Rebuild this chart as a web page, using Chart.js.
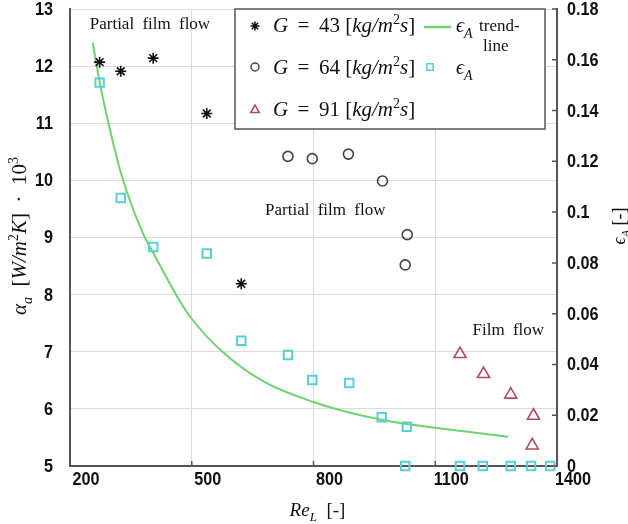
<!DOCTYPE html>
<html>
<head>
<meta charset="utf-8">
<script src="https://cdn.jsdelivr.net/npm/chart.js@4.4.0/dist/chart.umd.min.js"></script>
<style>
    html, body { margin: 0; padding: 0; background: #fff; }
</style>
</head>
<body>
<canvas id="chart" width="628" height="524"></canvas>
<script>
/*********************************/
// Measured points, Re_L on x
const g43_re = [273, 325, 405, 537, 622];
const g43_alpha = [12.07, 11.91, 12.14, 11.17, 8.19];

const g64_re = [737, 797, 886, 970, 1031, 1026];
const g64_alpha = [10.42, 10.38, 10.46, 9.99, 9.05, 8.52];

const g91_re = [1161, 1219, 1286, 1342, 1339];
const g91_alpha = [6.96, 6.61, 6.25, 5.88, 5.36];

// epsilon_A on the right axis
const eps_re = [273, 325, 405, 537, 622, 737, 797, 888, 968, 1030, 1026, 1161, 1217, 1286, 1336, 1383];
const eps_val = [0.151, 0.1056, 0.0863, 0.0837, 0.0493, 0.0437, 0.0339, 0.0327, 0.0192, 0.0155, 0, 0, 0, 0, 0, 0];

// trend line for epsilon_A
const trend_re = [256, 273, 297, 328, 380, 405, 463, 500, 574, 680, 800, 890, 1030, 1100, 1279];
const trend_eps = [0.1667, 0.1513, 0.1335, 0.114, 0.0915, 0.084, 0.067, 0.058, 0.0452, 0.033, 0.0252, 0.021, 0.0165, 0.0151, 0.0115];

// region labels, placed in data units (Re, alpha)
const regions = [
    { text: "Partial film flow", re: 397, alpha: 12.72 },
    { text: "Partial film flow", re: 829, alpha: 9.47 },
    { text: "Film flow", re: 1280, alpha: 7.37 }
];

const STAR_COLOR = '#111';
const CIRCLE_COLOR = '#444';
const TRI_COLOR = '#a8505a';
const SQUARE_COLOR = '#55d0d8';
const TREND_COLOR = '#6fd26f';
const AXIS_COLOR = '#555';
const GRID_COLOR = '#dadada';

const SERIF = "'Liberation Serif', 'DejaVu Serif', serif";
const TICK_FONT = "bold 18px 'Liberation Sans', Arial, sans-serif";

function pts(xs, ys) {
    return xs.map((x, i) => ({ x: x, y: ys[i] }));
}

// Text with italics, sub- and superscripts: parts = [{t, i, sub, sup}]
function part_font(p, size) {
    const s = (p.sub || p.sup) ? Math.round(size * 0.68) : size;
    return (p.i ? 'italic ' : '') + s + 'px ' + SERIF;
}

function rich_width(ctx, parts, size) {
    let w = 0;
    for (const p of parts) {
        ctx.font = part_font(p, size);
        w += ctx.measureText(p.t).width;
    }
    return w;
}

function draw_rich(ctx, parts, x, y, size, align) {
    let cx = x;
    if (align === 'center') cx = x - rich_width(ctx, parts, size) / 2;
    ctx.textBaseline = 'alphabetic';
    ctx.textAlign = 'left';
    for (const p of parts) {
        ctx.font = part_font(p, size);
        let dy = 0;
        if (p.sub) dy = size * 0.28;
        if (p.sup) dy = -size * 0.4;
        ctx.fillText(p.t, cx, y + dy);
        cx += ctx.measureText(p.t).width;
    }
}

function g_label(val) {
    return [
        { t: 'G', i: true }, { t: ' \u2009=\u2009 ' + val + ' [' },
        { t: 'kg/m', i: true }, { t: '2', sup: true }, { t: 's', i: true }, { t: ']' }
    ];
}

const eps_label = [{ t: '\u03F5', i: true }, { t: 'A', i: true, sub: true }];

function fmt_tick(v) {
    return String(+v.toFixed(2));
}

// narrow bold tick text
function tick_text(ctx, text, x, y, align) {
    ctx.save();
    ctx.translate(x, y);
    ctx.scale(0.9, 1);
    ctx.textAlign = align;
    ctx.fillText(text, 0, 0);
    ctx.restore();
}

// Tick labels, inner ticks, titles, region labels and legend box
const decorations = {
    id: 'decorations',
    afterDraw(chart) {
        const ctx = chart.ctx;
        const area = chart.chartArea;
        const xs = chart.scales.x;
        const ys = chart.scales.y;
        const y2 = chart.scales.y2;
        ctx.save();

        // inward tick marks on bottom and right axes
        ctx.strokeStyle = AXIS_COLOR;
        ctx.lineWidth = 1.5;
        ctx.beginPath();
        xs.ticks.forEach(t => {
            const px = xs.getPixelForValue(t.value);
            ctx.moveTo(px, area.bottom);
            ctx.lineTo(px, area.bottom - 5);
        });
        y2.ticks.forEach(t => {
            const py = y2.getPixelForValue(t.value);
            ctx.moveTo(area.right, py);
            ctx.lineTo(area.right - 5, py);
        });
        ctx.stroke();

        // tick labels
        ctx.fillStyle = '#111';
        ctx.font = TICK_FONT;
        ctx.textBaseline = 'middle';
        xs.ticks.forEach(t => {
            tick_text(ctx, fmt_tick(t.value), xs.getPixelForValue(t.value) + 16, area.bottom + 14, 'center');
        });
        ys.ticks.forEach(t => {
            tick_text(ctx, fmt_tick(t.value), area.left - 17, ys.getPixelForValue(t.value) + 1, 'right');
        });
        y2.ticks.forEach(t => {
            tick_text(ctx, fmt_tick(t.value), area.right + 10, y2.getPixelForValue(t.value) + 1, 'left');
        });

        // region labels
        ctx.font = '17px ' + SERIF;
        ctx.wordSpacing = '4px';
        ctx.textAlign = 'center';
        ctx.textBaseline = 'middle';
        regions.forEach(r => {
            ctx.fillText(r.text, xs.getPixelForValue(r.re), ys.getPixelForValue(r.alpha));
        });
        ctx.wordSpacing = '0px';

        // axis titles
        draw_rich(ctx, [{ t: 'Re', i: true }, { t: 'L', i: true, sub: true }, { t: '  [-]' }],
            (area.left + area.right) / 2 + 4, 516, 19, 'center');

        ctx.save();
        ctx.translate(26, 236);
        ctx.rotate(-Math.PI / 2);
        draw_rich(ctx, [
            { t: '\u03B1', i: true }, { t: 'a', i: true, sub: true }, { t: '  [' },
            { t: 'W/m', i: true }, { t: '2', sup: true }, { t: 'K', i: true }, { t: ']  \u00B7  10' },
            { t: '3', sup: true }
        ], 0, 0, 21, 'center');
        ctx.restore();

        ctx.save();
        ctx.translate(625, 226);
        ctx.rotate(-Math.PI / 2);
        draw_rich(ctx, eps_label.concat([{ t: ' [-]' }]), 0, 0, 18, 'center');
        ctx.restore();

        // legend
        const bx = 235, by = 9, bw = 310, bh = 120;
        ctx.fillStyle = '#fff';
        ctx.fillRect(bx, by, bw, bh);
        ctx.strokeStyle = AXIS_COLOR;
        ctx.lineWidth = 1.5;
        ctx.strokeRect(bx, by, bw, bh);

        const draw = Chart.helpers.drawPoint;
        ctx.lineWidth = 1.5;
        ctx.strokeStyle = STAR_COLOR;
        draw(ctx, { pointStyle: 'star', radius: 4.5, rotation: 0, borderWidth: 1.5 }, 255, 26);
        ctx.strokeStyle = CIRCLE_COLOR;
        ctx.fillStyle = 'rgba(0,0,0,0)';
        draw(ctx, { pointStyle: 'circle', radius: 4, rotation: 0, borderWidth: 1.5 }, 255, 67);
        ctx.strokeStyle = TRI_COLOR;
        draw(ctx, { pointStyle: 'triangle', radius: 5, rotation: 0, borderWidth: 1.5 }, 255, 110);
        ctx.strokeStyle = SQUARE_COLOR;
        draw(ctx, { pointStyle: 'rect', radius: 4.5, rotation: 0, borderWidth: 2 }, 430, 67);

        ctx.strokeStyle = TREND_COLOR;
        ctx.lineWidth = 2.5;
        ctx.beginPath();
        ctx.moveTo(424, 27);
        ctx.lineTo(451, 27);
        ctx.stroke();

        ctx.fillStyle = '#111';
        draw_rich(ctx, g_label('43'), 273, 32, 21);
        draw_rich(ctx, g_label('64'), 273, 74, 21);
        draw_rich(ctx, g_label('91'), 273, 116, 21);
        draw_rich(ctx, eps_label, 456, 32, 20);
        draw_rich(ctx, eps_label, 456, 74, 20);
        ctx.font = '17px ' + SERIF;
        ctx.textAlign = 'left';
        ctx.fillText('trend-', 479, 31);
        ctx.fillText('line', 483, 51);

        ctx.restore();
    }
};

new Chart(document.getElementById('chart'), {
    type: 'scatter',
    data: {
        datasets: [
            {
                label: 'G = 43',
                data: pts(g43_re, g43_alpha),
                yAxisID: 'y',
                pointStyle: 'star',
                pointRadius: 5.5,
                borderColor: STAR_COLOR,
                borderWidth: 1.6
            },
            {
                label: 'G = 64',
                data: pts(g64_re, g64_alpha),
                yAxisID: 'y',
                pointStyle: 'circle',
                pointRadius: 5,
                backgroundColor: 'rgba(0,0,0,0)',
                borderColor: CIRCLE_COLOR,
                borderWidth: 1.6
            },
            {
                label: 'G = 91',
                data: pts(g91_re, g91_alpha),
                yAxisID: 'y',
                pointStyle: 'triangle',
                pointRadius: 7,
                backgroundColor: 'rgba(0,0,0,0)',
                borderColor: TRI_COLOR,
                borderWidth: 1.6
            },
            {
                label: 'eps_A',
                data: pts(eps_re, eps_val),
                yAxisID: 'y2',
                pointStyle: 'rect',
                pointRadius: 6,
                backgroundColor: 'rgba(0,0,0,0)',
                borderColor: SQUARE_COLOR,
                borderWidth: 2,
                clip: false
            },
            {
                label: 'eps_A trend-line',
                data: pts(trend_re, trend_eps),
                yAxisID: 'y2',
                showLine: true,
                pointRadius: 0,
                borderColor: TREND_COLOR,
                borderWidth: 2,
                cubicInterpolationMode: 'monotone'
            }
        ]
    },
    plugins: [decorations],
    options: {
        responsive: false,
        animation: false,
        layout: { padding: { top: 9, left: 0, right: 0, bottom: 0 } },
        plugins: {
            legend: { display: false },
            tooltip: { enabled: false }
        },
        scales: {
            x: {
                type: 'linear',
                min: 200,
                max: 1400,
                afterFit: (s) => { s.height = 58; },
                ticks: { stepSize: 300, display: false },
                grid: { color: GRID_COLOR, drawTicks: false },
                border: { color: AXIS_COLOR, width: 2 }
            },
            y: {
                position: 'left',
                min: 5,
                max: 13,
                afterFit: (s) => { s.width = 70; },
                ticks: { stepSize: 1, display: false },
                grid: { color: GRID_COLOR, drawTicks: false },
                border: { color: AXIS_COLOR, width: 2 }
            },
            y2: {
                position: 'right',
                min: 0,
                max: 0.18,
                afterFit: (s) => { s.width = 71; },
                ticks: { stepSize: 0.02, display: false },
                grid: { drawOnChartArea: false, drawTicks: false },
                border: { color: AXIS_COLOR, width: 2 }
            }
        }
    }
});
</script>
</body>
</html>
